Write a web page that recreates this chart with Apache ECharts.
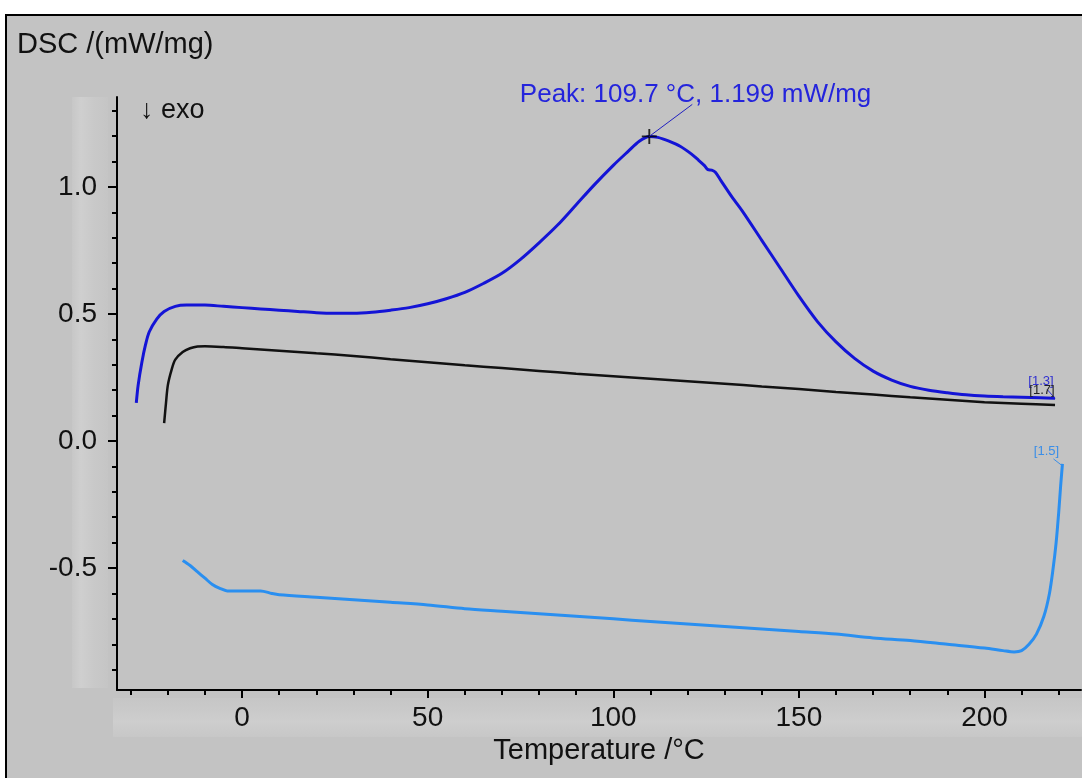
<!DOCTYPE html>
<html>
<head>
<meta charset="utf-8">
<script src="https://cdn.jsdelivr.net/npm/echarts@6/dist/echarts.min.js"></script>
<style>
html,body{margin:0;padding:0;background:#fff;}
#c{width:1082px;height:778px;}
</style>
</head>
<body>
<div id="c"></div>
<script>
// ---- data ----
const blueTemp = [-28.5,-28,-27,-26,-25,-23,-21,-18,-15,-10,-5,0,5,10,15,20,25,30,35,40,45,50,55,60,65,70,75,80,85,90,95,100,104,107,109.7,112,115,118,121,123,124.5,125.5,126.5,127.5,129,132,135,140,145,150,155,160,165,170,175,180,185,190,195,200,205,210,215,219];
const blueDsc  = [0.15,0.22,0.31,0.38,0.43,0.48,0.51,0.53,0.535,0.535,0.53,0.525,0.52,0.515,0.51,0.505,0.503,0.503,0.507,0.515,0.525,0.54,0.56,0.585,0.62,0.66,0.715,0.78,0.85,0.93,1.01,1.085,1.14,1.18,1.199,1.195,1.18,1.16,1.13,1.105,1.085,1.068,1.066,1.058,1.025,0.96,0.9,0.79,0.68,0.57,0.47,0.39,0.325,0.275,0.24,0.215,0.2,0.19,0.182,0.177,0.174,0.172,0.17,0.168];

const blackTemp = [-21,-20.5,-20,-19,-18,-16,-14,-12,-10,-5,0,10,20,30,40,50,60,70,80,90,100,110,120,130,140,150,160,170,180,190,200,210,219];
const blackDsc  = [0.07,0.15,0.22,0.28,0.32,0.35,0.365,0.372,0.373,0.37,0.365,0.355,0.345,0.335,0.322,0.31,0.298,0.287,0.276,0.265,0.255,0.245,0.235,0.225,0.215,0.205,0.193,0.183,0.172,0.162,0.153,0.147,0.142];

const lightTemp = [-16,-14,-12,-10,-8,-6,-4,0,5,8,10,20,30,40,50,60,70,80,90,100,110,120,130,140,150,160,170,180,190,200,205,208,210,212,214,216,217.5,218.5,219.3,220,220.5,221];
const lightDsc  = [-0.47,-0.49,-0.515,-0.54,-0.565,-0.58,-0.59,-0.59,-0.59,-0.6,-0.605,-0.615,-0.625,-0.635,-0.645,-0.66,-0.67,-0.68,-0.69,-0.70,-0.71,-0.72,-0.73,-0.74,-0.75,-0.76,-0.775,-0.785,-0.80,-0.815,-0.825,-0.83,-0.825,-0.80,-0.76,-0.69,-0.6,-0.5,-0.4,-0.28,-0.18,-0.09];

const peakPoint = [109.7, 1.199];
const peakText = 'Peak: 109.7 °C, 1.199 mW/mg';
const endLabels = ['[1.3]', '[1.7]', '[1.5]'];

const xMajorTicks = [0, 50, 100, 150, 200];
const xMinorTicks = [-30,-20,-10,0,10,20,30,40,50,60,70,80,90,100,110,120,130,140,150,160,170,180,190,200,210,220];
const yMajorTicks = [-0.5, 0, 0.5, 1.0];
const yMinorTicks = [-0.9,-0.8,-0.7,-0.6,-0.5,-0.4,-0.3,-0.2,-0.1,0,0.1,0.2,0.3,0.4,0.5,0.6,0.7,0.8,0.9,1.0,1.1,1.2,1.3];

const yTitle = 'DSC /(mW/mg)';
const xTitle = 'Temperature /°C';
const exoText = '↓ exo';

// ---- chart ----
const zip = (a, b) => a.map((v, i) => [v, b[i]]);
const FONT = '"Liberation Sans", Arial, sans-serif';
const X_MIN = -33.7, X_MAX = 226, Y_MIN = -0.98, Y_MAX = 1.354;

const chart = echarts.init(document.getElementById('c'), null, {renderer: 'canvas'});

const baseX = {type: 'value', min: X_MIN, max: X_MAX, splitLine: {show: false}};
const baseY = {type: 'value', min: Y_MIN, max: Y_MAX, splitLine: {show: false}};

const option = {
  backgroundColor: '#c3c3c3',
  animation: false,
  grid: {left: 117, right: 1, top: 97, bottom: 88, containLabel: false},
  xAxis: [
    Object.assign({}, baseX, {
      name: xTitle, nameLocation: 'middle', nameGap: 45,
      nameTextStyle: {fontFamily: FONT, fontSize: 29, color: '#111'},
      axisLine: {show: true, onZero: false, lineStyle: {color: '#000', width: 2}},
      axisTick: {show: true, customValues: xMajorTicks, length: 8, lineStyle: {color: '#000', width: 2}},
      axisLabel: {show: true, customValues: xMajorTicks, margin: 14, fontFamily: FONT, fontSize: 28, color: '#111',
        formatter: v => String(Math.round(v))}
    }),
    Object.assign({}, baseX, {
      position: 'bottom',
      axisLine: {show: false, onZero: false},
      axisTick: {show: true, customValues: xMinorTicks, length: 5, lineStyle: {color: '#000', width: 2}},
      axisLabel: {show: false}
    })
  ],
  yAxis: [
    Object.assign({}, baseY, {
      axisLine: {show: true, onZero: false, lineStyle: {color: '#000', width: 2}},
      axisTick: {show: true, customValues: yMajorTicks, length: 9, lineStyle: {color: '#000', width: 2}},
      axisLabel: {show: true, customValues: yMajorTicks, margin: 20, fontFamily: FONT, fontSize: 28, color: '#111',
        formatter: v => v.toFixed(1)}
    }),
    Object.assign({}, baseY, {
      position: 'left',
      axisLine: {show: false, onZero: false},
      axisTick: {show: true, customValues: yMinorTicks, length: 5, lineStyle: {color: '#000', width: 2}},
      axisLabel: {show: false}
    })
  ],
  series: [
    {type: 'line', name: 'black', data: zip(blackTemp, blackDsc), showSymbol: false, smooth: 0.3,
      lineStyle: {color: '#111', width: 2.5}, z: 3},
    {type: 'line', name: 'blue', data: zip(blueTemp, blueDsc), showSymbol: false, smooth: 0.3,
      lineStyle: {color: '#1414d6', width: 3}, z: 4},
    {type: 'line', name: 'light', data: zip(lightTemp, lightDsc), showSymbol: false, smooth: 0.3,
      lineStyle: {color: '#2a8ff0', width: 3}, z: 3},
    {type: 'scatter', name: 'peak', data: [peakPoint], z: 6,
      symbol: 'path://M7,0L9,0L9,7L16,7L16,9L9,9L9,16L7,16L7,9L0,9L0,7L7,7Z', symbolSize: 15,
      itemStyle: {color: '#000'}}
  ],
  graphic: {elements: [
    {type: 'rect', id: 'wTop', shape: {x: 0, y: 0, width: 1082, height: 14}, style: {fill: '#fff'}, z: 100},
    {type: 'rect', id: 'wLeft', shape: {x: 0, y: 0, width: 5, height: 778}, style: {fill: '#fff'}, z: 100},
    {type: 'line', id: 'bTop', shape: {x1: 5, y1: 15, x2: 1082, y2: 15}, style: {stroke: '#000', lineWidth: 2}, z: 101},
    {type: 'line', id: 'bLeft', shape: {x1: 6, y1: 14, x2: 6, y2: 778}, style: {stroke: '#000', lineWidth: 2}, z: 101},
    {type: 'rect', id: 'sbLeft', shape: {x: 72, y: 97, width: 36, height: 591}, z: -5,
      style: {fill: new echarts.graphic.LinearGradient(0, 0, 1, 0, [
        {offset: 0, color: '#c7c7c7'}, {offset: 0.25, color: '#cfcfcf'}, {offset: 0.6, color: '#c9c9c9'}, {offset: 1, color: '#c5c5c5'}])}},
    {type: 'rect', id: 'sbBottom', shape: {x: 113, y: 698, width: 969, height: 39}, z: -5,
      style: {fill: new echarts.graphic.LinearGradient(0, 0, 0, 1, [
        {offset: 0, color: '#c6c6c6'}, {offset: 0.35, color: '#cacaca'}, {offset: 0.6, color: '#cecece'}, {offset: 1, color: '#c7c7c7'}])}},
    {type: 'text', id: 'yTitle', x: 17, y: 45, style: {text: yTitle, font: '29px ' + FONT, fill: '#111', verticalAlign: 'middle'}, z: 50},
    {type: 'text', id: 'exo', x: 140, y: 111, style: {text: exoText, font: '27px ' + FONT, fill: '#111', verticalAlign: 'middle'}, z: 50}
  ]}
};
chart.setOption(option);

// annotations positioned from the data through the chart's scales
const px = p => chart.convertToPixel({xAxisIndex: 0, yAxisIndex: 0}, p);
const pk = px(peakPoint);
const bEnd = px([blueTemp[blueTemp.length - 1], blueDsc[blueDsc.length - 1]]);
const kEnd = px([blackTemp[blackTemp.length - 1], blackDsc[blackDsc.length - 1]]);
const lEnd = px([lightTemp[lightTemp.length - 1], lightDsc[lightDsc.length - 1]]);

const ann = [
  {type: 'line', id: 'pkLead', shape: {x1: pk[0], y1: pk[1], x2: pk[0] + 43, y2: pk[1] - 32},
    style: {stroke: '#2020c0', lineWidth: 1}, z: 60},
  {type: 'text', id: 'pkText', x: pk[0] + 222, y: pk[1] - 42,
    style: {text: peakText, font: '26px ' + FONT, fill: '#2424dc', align: 'right', verticalAlign: 'middle'}, z: 60},
  {type: 'text', id: 'e13', x: bEnd[0] - 14, y: bEnd[1] - 17,
    style: {text: endLabels[0], font: '13px ' + FONT, fill: '#3030d0', align: 'center', verticalAlign: 'middle'}, z: 60},
  {type: 'text', id: 'e17', x: kEnd[0] - 13, y: kEnd[1] - 15,
    style: {text: endLabels[1], font: '13px ' + FONT, fill: '#222', align: 'center', verticalAlign: 'middle'}, z: 61},
  {type: 'line', id: 'e13l', shape: {x1: bEnd[0] - 8, y1: bEnd[1] - 9, x2: bEnd[0], y2: bEnd[1]},
    style: {stroke: '#3030d0', lineWidth: 1}, z: 60},
  {type: 'text', id: 'e15', x: lEnd[0] - 16, y: lEnd[1] - 12,
    style: {text: endLabels[2], font: '13px ' + FONT, fill: '#3a8ee8', align: 'center', verticalAlign: 'middle'}, z: 60},
  {type: 'line', id: 'e15l', shape: {x1: lEnd[0] - 9, y1: lEnd[1] - 5, x2: lEnd[0], y2: lEnd[1] + 2},
    style: {stroke: '#3a8ee8', lineWidth: 1}, z: 60}
];
chart.setOption({graphic: {elements: ann}});
</script>
</body>
</html>
